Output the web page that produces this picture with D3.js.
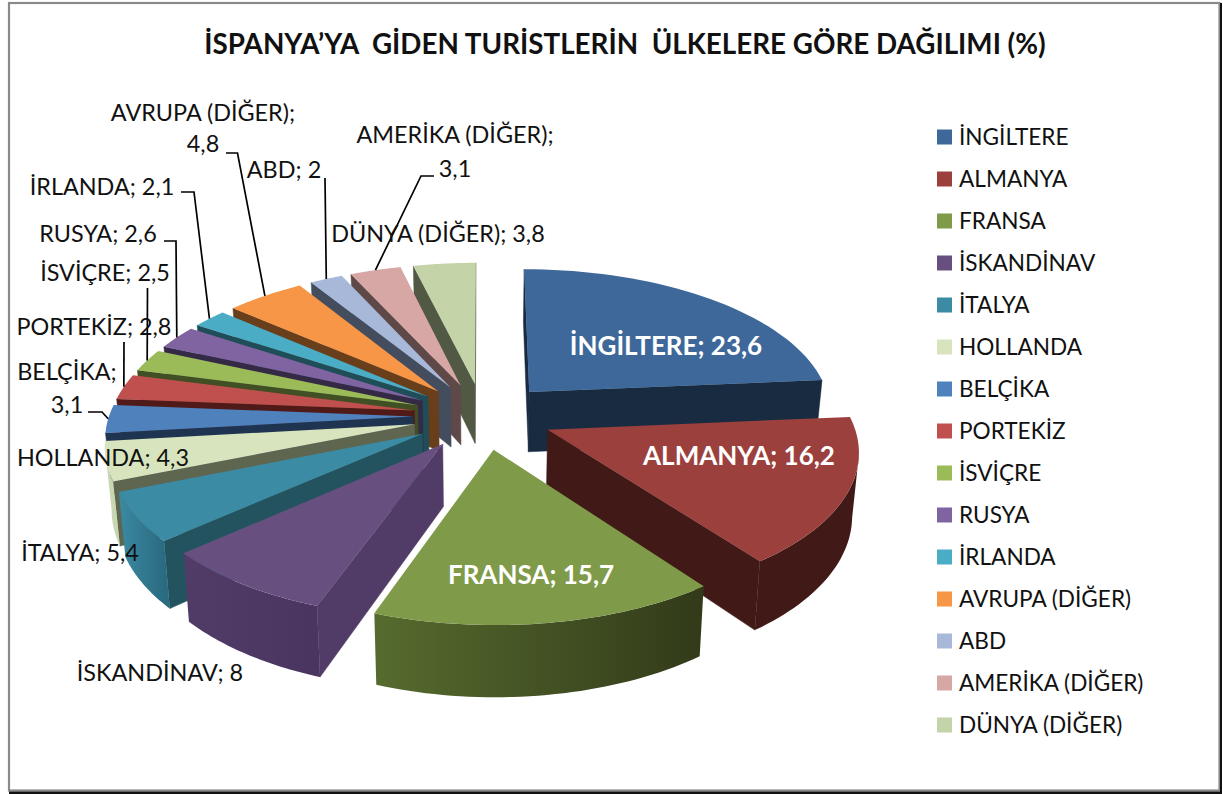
<!DOCTYPE html>
<html>
<head>
<meta charset="utf-8">
<script src="https://cdn.jsdelivr.net/npm/d3@7"></script>
<style>
    html, body { margin: 0; padding: 0; background: #fff; }
    svg { display: block; }
    text { font-family: Lato, "Open Sans", sans-serif; fill: #111; }
</style>
</head>
<body>
<div id="chart"></div>
<script>
const categories = ["İNGİLTERE", "ALMANYA", "FRANSA", "İSKANDİNAV", "İTALYA", "HOLLANDA", "BELÇİKA", "PORTEKİZ",
    "İSVİÇRE", "RUSYA", "İRLANDA", "AVRUPA (DİĞER)", "ABD", "AMERİKA (DİĞER)", "DÜNYA (DİĞER)"];
const shares = [23.6, 16.2, 15.7, 8, 5.4, 4.3, 3.1, 2.8, 2.5, 2.6, 2.1, 4.8, 2, 3.1, 3.8];

const title = "İSPANYA’YA  GİDEN TURİSTLERİN  ÜLKELERE GÖRE DAĞILIMI (%)";

const topColors = ["#3f689a", "#9b403d", "#7f9a48", "#67507f", "#3b8ba4", "#d7e4bd", "#4f81bd", "#c0504d",
    "#9bbb59", "#8064a2", "#4bacc6", "#f79646", "#a7b8d9", "#d7a7a6", "#c4d3a8"];
const sideColors = ["#182b40", "#411a17", "#556b30", "#503c66", "#22535f", "#5e6650", "#1f3450", "#4f1a18",
    "#414f25", "#352a45", "#1f4d58", "#693f1b", "#434d5e", "#5e4948", "#515945"];
const wallLeft = ["#182b40", "#411a17", "#566b2e", "#503c66", "#3b8aa3", "#c9d6b2", "#1f3450", "#4f1a18",
    "#414f25", "#352a45", "#1f4d58", "#693f1b", "#434d5e", "#5e4948", "#515945"];
const wallRight = ["#182b40", "#411a17", "#323a19", "#4a3560", "#2a6b80", "#c9d6b2", "#1f3450", "#4f1a18",
    "#414f25", "#352a45", "#1f4d58", "#693f1b", "#434d5e", "#5e4948", "#515945"];

// hand placed labels, same as in the original
const labelLayout = [
    { lines: [[666, 345]], white: true },
    { lines: [[739, 455]], white: true },
    { lines: [[531, 574]], white: true },
    { lines: [[160, 672]] },
    { lines: [[80, 552]] },
    { lines: [[103, 457]] },
    { lines: [[67, 371], [67, 404]], elbow: [[88, 412], [102, 412]] },
    { lines: [[94, 326]], elbow: [[124, 342]] },
    { lines: [[105, 272]], elbow: [[147.5, 288]] },
    { lines: [[98, 233]], elbow: [[164, 241], [176, 241]] },
    { lines: [[102, 186]], elbow: [[181, 192], [194, 192]] },
    { lines: [[203, 112], [203, 143]], elbow: [[226, 153], [237.5, 153]] },
    { lines: [[284, 169]], elbow: [[325, 178]] },
    { lines: [[455, 134], [455, 168]], elbow: [[434, 176], [421, 176]] },
    { lines: [[438, 233]] }
];

const width = 1223, height = 794;

// flat disc -> screen, cx/cy is the middle of the pie before explosion
const cx = 483, cy = 416,
    scaleX = 304, scaleY = 144, depth = 61,
    persp = 0.126, explode = 0.23,
    bottomShrink = 0.982;

function project(p, z) {
    let w = 1 + persp * p[1];
    return [cx + scaleX * p[0] / w * (z ? bottomShrink : 1), cy - scaleY * p[1] / w + (z ? depth / w : 0)];
}

function polar(a, r, mid) {
    return [explode * Math.sin(mid) + r * Math.sin(a), explode * Math.cos(mid) + r * Math.cos(a)];
}

const path = d3.line();

const svg = d3.select("#chart").append("svg")
    .attr("width", width)
    .attr("height", height);

const defs = svg.append("defs");

// chart frame
svg.append("rect").attr("x", 0).attr("y", 0).attr("width", width).attr("height", height).attr("fill", "#fff");
svg.append("rect").attr("x", 9).attr("y", 3).attr("width", 1210.5).attr("height", 787.5)
    .attr("fill", "none").attr("stroke", "#8a8a8a").attr("stroke-width", 2.2);
svg.append("rect").attr("x", 9).attr("y", 791.5).attr("width", 1213).attr("height", 2.5).attr("fill", "#111");
svg.append("rect").attr("x", 1220).attr("y", 3).attr("width", 2).attr("height", 791).attr("fill", "#111");

svg.append("text")
    .attr("x", 625)
    .attr("y", 43)
    .attr("text-anchor", "middle")
    .attr("dominant-baseline", "central")
    .style("font-size", "27.8px")
    .style("font-weight", "700")
    .style("white-space", "pre")
    .attr("xml:space", "preserve")
    .text(title);

// pie
let pie = d3.pie().sort(null).startAngle(0).endAngle(2 * Math.PI);
let arcs = pie(shares).map((d, i) => {
    d.i = i;
    d.mid = (d.startAngle + d.endAngle) / 2;
    return d;
});

// back slices first
let order = arcs.slice().sort((a, b) => Math.cos(b.mid) - Math.cos(a.mid));

const pieG = svg.append("g");

order.forEach(d => {
    let steps = d3.range(0, 41).map(k => d.startAngle + (d.endAngle - d.startAngle) * k / 40);
    let outer = steps.map(a => polar(a, 1, d.mid));
    let apex = polar(0, 0, d.mid);
    let g = pieG.append("g");
    let midTop = project(polar(d.mid, 1, d.mid));

    // flat side faces, only the ones turned to the viewer
    [outer[0], outer[40]].forEach(o => {
        let a = project(apex), b = project(o), a2 = project(apex, true), b2 = project(o, true);
        let side = q => (b[0] - a[0]) * (q[1] - a[1]) - (b[1] - a[1]) * (q[0] - a[0]);
        if (side(midTop) * side(a2) < 0) {
            g.append("path")
                .attr("d", path([a, b, b2, a2]) + "Z")
                .attr("fill", sideColors[d.i])
                .attr("stroke", sideColors[d.i])
                .attr("stroke-width", 0.5);
        }
    });

    // outer wall
    let top = outer.map(p => project(p));
    let bottom = outer.map(p => project(p, true));
    let from = -1, to = -1;
    for (let k = 0; k < 40; k++) {
        if (top[k + 1][0] < top[k][0]) {
            if (from < 0) from = k;
            to = k + 1;
        }
    }
    if (from >= 0) {
        let gradId = "wall" + d.i;
        let grad = defs.append("linearGradient").attr("id", gradId)
            .attr("gradientUnits", "userSpaceOnUse")
            .attr("x1", top[to][0]).attr("x2", top[from][0])
            .attr("y1", 0).attr("y2", 0);
        grad.append("stop").attr("offset", 0).attr("stop-color", wallLeft[d.i]);
        grad.append("stop").attr("offset", 1).attr("stop-color", wallRight[d.i]);
        let wallPts = top.slice(from, to + 1).concat(bottom.slice(from, to + 1).reverse());
        g.append("path")
            .attr("d", path(wallPts) + "Z")
            .attr("fill", `url(#${gradId})`);
    }

    g.append("path")
        .attr("d", path([project(apex)].concat(top)) + "Z")
        .attr("fill", topColors[d.i]);
});

// leader lines
arcs.forEach(d => {
    let l = labelLayout[d.i];
    if (!l.elbow) return;
    let end = project(polar(d.mid, 1, d.mid));
    svg.append("path")
        .attr("d", path(l.elbow.concat([end])))
        .attr("fill", "none")
        .attr("stroke", "#000")
        .attr("stroke-width", 1.7);
});

// data labels
arcs.forEach(d => {
    let l = labelLayout[d.i];
    let v = String(d.data).replace(".", ",");
    let txt = l.lines.length > 1 ? [categories[d.i] + ";", v] : [categories[d.i] + "; " + v];
    l.lines.forEach((pos, n) => {
        let t = svg.append("text")
            .attr("x", pos[0])
            .attr("y", pos[1])
            .attr("text-anchor", "middle")
            .attr("dominant-baseline", "central")
            .text(txt[n]);
        if (l.white) {
            t.style("fill", "#fff").style("font-weight", "700").style("font-size", "26px");
        } else {
            t.style("font-size", "23.4px");
        }
    });
});

// legend
let legendY = d3.scalePoint().domain(categories).range([136, 724]);
let legend = svg.append("g").selectAll("g").data(categories).join("g")
    .attr("transform", d => `translate(937,${legendY(d)})`);
legend.append("rect")
    .attr("x", 0).attr("y", -6.5).attr("width", 15).attr("height", 15)
    .attr("fill", (d, i) => topColors[i]);
legend.append("text")
    .attr("x", 22)
    .attr("y", 0)
    .attr("dominant-baseline", "central")
    .style("font-size", "22.6px")
    .text(d => d);
</script>
</body>
</html>
